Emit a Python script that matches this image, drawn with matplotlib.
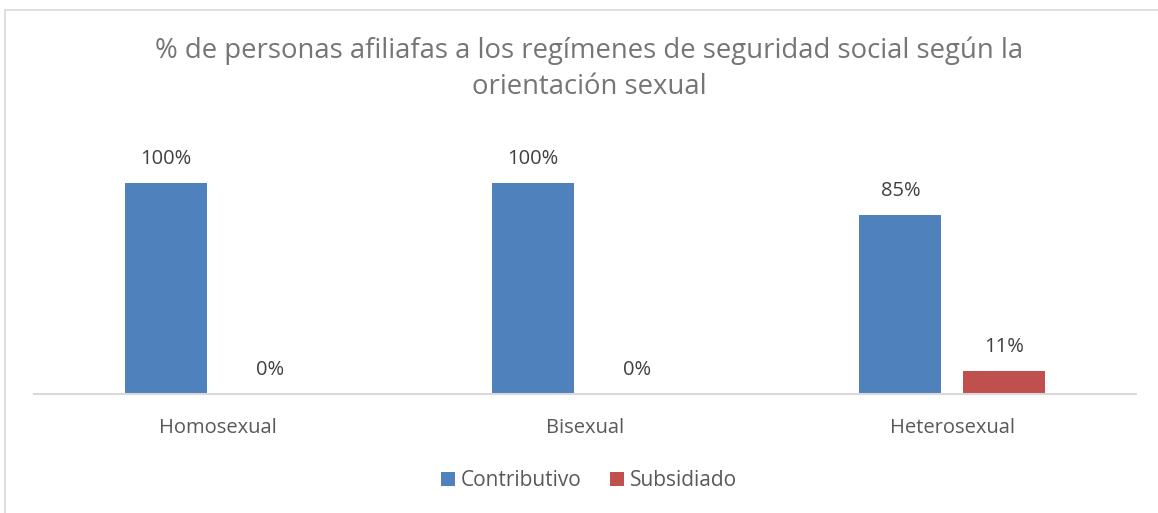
import matplotlib.pyplot as plt
from matplotlib.patches import Rectangle
import numpy as np

categories = ["Homosexual", "Bisexual", "Heterosexual"]
contributivo = [1.00, 1.00, 0.85]
subsidiado = [0.00, 0.00, 0.11]
series_names = ["Contributivo", "Subsidiado"]
title = "% de personas afiliafas a los regímenes de seguridad social según la\norientación sexual"

plt.rcParams['font.family'] = ['Open Sans', 'DejaVu Sans']

W, H = 1158, 513
fig = plt.figure(figsize=(W / 100, H / 100), dpi=100)

# chart frame (only left and top edges are inside the picture)
fig.patches.append(Rectangle((5 / W, -0.1), 1.2, (H - 10) / H + 0.1,
                             transform=fig.transFigure, fill=False,
                             edgecolor='#d9d9d9', linewidth=1.2))

ax = fig.add_axes([34 / W, (H - 394) / H, (1136 - 34) / W, 263.75 / H])

x = np.arange(len(categories))
width = 0.223
off = 0.1416
blue = '#4f81bd'
red = '#c0504d'

b1 = ax.bar(x - off, contributivo, width, color=blue, label=series_names[0])
b2 = ax.bar(x + off, subsidiado, width, color=red, label=series_names[1])

for bars, vals in ((b1, contributivo), (b2, subsidiado)):
    for bar, v in zip(bars, vals):
        ax.annotate(f"{v * 100:.0f}%", (bar.get_x() + bar.get_width() / 2, v),
                    xytext=(0, 17), textcoords='offset points',
                    ha='center', va='center', fontsize=14.5, color='#404040')

ax.set_xlim(-0.5, 2.5)
ax.set_ylim(0, 1.25)
ax.set_xticks(x)
ax.set_xticklabels(categories, fontsize=14.5, color='#595959')
ax.tick_params(axis='x', length=0, pad=17)
ax.set_yticks([])
for s in ['top', 'right', 'left']:
    ax.spines[s].set_visible(False)
ax.spines['bottom'].set_color('#d9d9d9')
ax.spines['bottom'].set_linewidth(1.5)

fig.text(589 / W, 1 - 69 / H, title, ha='center', va='center',
         fontsize=19.8, color='#757575', linespacing=1.4)

fig.legend(loc='center', bbox_to_anchor=(589 / W, 1 - 481 / H), ncol=2,
           frameon=False, fontsize=15, handlelength=0.67, handleheight=0.67,
           columnspacing=1.35, handletextpad=0.29, labelcolor='#595959',
           borderpad=0)

fig.savefig('out.png', dpi=100)
